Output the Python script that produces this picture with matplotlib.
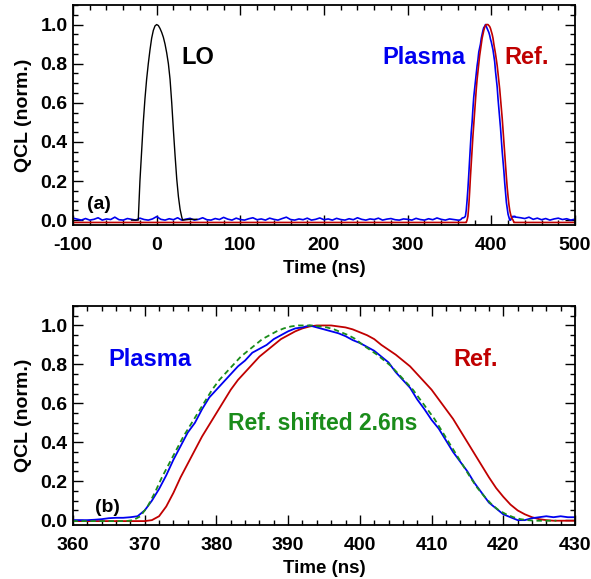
import numpy as np
import matplotlib
matplotlib.use("Agg")
import matplotlib.pyplot as plt
from matplotlib.ticker import MultipleLocator, FormatStrFormatter

plt.rcParams['font.family'] = ['Liberation Sans', 'DejaVu Sans']
plt.rcParams['font.weight'] = 'bold'
plt.rcParams['axes.unicode_minus'] = False

# ---- pulse data (1 ns sampling, 360..430 ns) ----
t_pulse = np.arange(360, 431, 1.0)
ref_pulse = [-0.005]*11 + [
    0.0, 0.02, 0.07, 0.14, 0.22, 0.29, 0.36, 0.43, 0.49, 0.55,
    0.61, 0.67, 0.72, 0.76, 0.80, 0.84, 0.87, 0.90, 0.93, 0.95,
    0.97, 0.985, 0.995, 1.0, 1.0, 1.0, 0.995, 0.99, 0.98, 0.965,
    0.95, 0.93, 0.90, 0.875, 0.85, 0.82, 0.79, 0.75, 0.71, 0.67,
    0.62, 0.57, 0.52, 0.46, 0.40, 0.34, 0.28, 0.22, 0.165, 0.12,
    0.08, 0.05, 0.03, 0.015, 0.005, 0.0, -0.003, -0.003, -0.003, -0.003]
plasma_pulse = [
    0.0, 0.0, 0.0, 0.002, 0.005, 0.01, 0.012, 0.012, 0.015, 0.02,
    0.05, 0.10, 0.16, 0.23, 0.31, 0.38, 0.45, 0.50, 0.57, 0.63,
    0.67, 0.71, 0.75, 0.79, 0.82, 0.86, 0.88, 0.90, 0.93, 0.95,
    0.97, 0.985, 0.99, 1.0, 0.99, 0.98, 0.97, 0.96, 0.945, 0.925,
    0.91, 0.89, 0.87, 0.84, 0.81, 0.76, 0.72, 0.68, 0.62, 0.57,
    0.515, 0.47, 0.41, 0.35, 0.30, 0.25, 0.19, 0.14, 0.09, 0.06,
    0.03, 0.015, 0.0, 0.0, 0.01, 0.015, 0.02, 0.015, 0.02, 0.015, 0.015]
shift_ns = 2.6

# ---- LO pulse ----
t_lo = [-30, -22, -21, -20, -18, -16, -14, -12, -10, -8, -6, -4, -2, 0,
        2, 4, 6, 8, 10, 12, 14, 16, 18, 19, 20, 22, 24, 26, 28, 30, 31, 40, 48]
lo = [0.0, 0.0, 0.1, 0.2, 0.35, 0.5, 0.62, 0.72, 0.8, 0.87, 0.93, 0.97, 0.993, 1.0,
      0.995, 0.98, 0.96, 0.935, 0.9, 0.855, 0.8, 0.72, 0.6, 0.53, 0.46, 0.33,
      0.21, 0.12, 0.055, 0.015, 0.0, 0.004, 0.004]

# ---- baseline (outside pulse) for panel (a) ----
t_base_pre = np.arange(-100, 360, 5.0)
plasma_base_pre = [
    0.01, 0.005, 0.0, 0.008, 0.0, 0.004, 0.012, 0.0, 0.006, 0.003,
    0.015, 0.002, 0.0, 0.008, 0.004, 0.0, 0.01, 0.003, 0.0, 0.006,
    0.018, 0.004, 0.0, 0.007, 0.002, 0.012, 0.0, 0.005, 0.009, 0.0,
    0.004, 0.012, 0.002, 0.0, 0.008, 0.003, 0.014, 0.005, 0.0, 0.01,
    0.003, 0.0, 0.007, 0.012, 0.002, 0.006, 0.0, 0.01, 0.004, 0.0,
    0.008, 0.015, 0.003, 0.0, 0.006, 0.002, 0.01, 0.0, 0.004, 0.011,
    0.002, 0.006, 0.0, 0.009, 0.003, 0.0, 0.007, 0.002, 0.012, 0.004,
    0.0, 0.006, 0.003, 0.01, 0.0, 0.005, 0.008, 0.002, 0.0, 0.006,
    0.004, 0.0, 0.009, 0.003, 0.0, 0.007, 0.002, 0.011, 0.004, 0.0,
    0.006, 0.003]
t_base_post = np.arange(435, 501, 5.0)
plasma_base_post = [0.012, 0.008, 0.015, 0.004, 0.01, 0.002, 0.008, 0.0,
                    0.006, 0.01, 0.003, 0.007, 0.0, 0.005]
ref_base = -0.012

blue = '#0000f0'
red = '#c00000'
green = '#1a8c1a'

fig = plt.figure(figsize=(5.91, 5.79), dpi=100)
ax1 = fig.add_axes([73/591, 1-225/579, 502/591, 220/579])
ax2 = fig.add_axes([73/591, 1-525/579, 502/591, 219/579])

# panel (a)
t_ref_full = np.concatenate([[-100], t_pulse, [500]])
ref_full = np.concatenate([[ref_base], ref_pulse, [ref_base]])
ref_full = np.where(ref_full < 0, ref_base, ref_full)
t_pl_full = np.concatenate([t_base_pre, t_pulse, t_base_post])
pl_full = np.concatenate([plasma_base_pre, plasma_pulse, plasma_base_post])
ax1.plot(t_pl_full, pl_full, color=blue, lw=1.2)
ax1.plot(t_ref_full, ref_full, color=red, lw=1.2)
ax1.plot(t_lo, lo, color='black', lw=1.0)
ax1.set_xlim(-100, 500)
ax1.set_ylim(-0.025, 1.1)
ax1.xaxis.set_major_locator(MultipleLocator(100))
ax1.xaxis.set_minor_locator(MultipleLocator(20))
ax1.text(49, 0.83, 'LO', color='black', fontsize=17, fontweight='bold', ha='center', va='center')
ax1.text(319, 0.83, 'Plasma', color=blue, fontsize=17, fontweight='bold', ha='center', va='center')
ax1.text(442.5, 0.83, 'Ref.', color=red, fontsize=17, fontweight='bold', ha='center', va='center')
ax1.text(-83, 0.08, '(a)', color='black', fontsize=14, fontweight='bold', ha='left', va='center')

# panel (b)
ax2.plot(t_pulse, ref_pulse, color=red, lw=1.3)
ax2.plot(t_pulse, plasma_pulse, color=blue, lw=1.3)
ax2.plot(t_pulse - shift_ns, ref_pulse, color=green, lw=1.3, ls=(0, (3, 2)))
ax2.set_xlim(360, 430)
ax2.set_ylim(-0.025, 1.1)
ax2.xaxis.set_major_locator(MultipleLocator(10))
ax2.xaxis.set_minor_locator(MultipleLocator(2))
ax2.text(370.7, 0.825, 'Plasma', color=blue, fontsize=17, fontweight='bold', ha='center', va='center')
ax2.text(416.1, 0.825, 'Ref.', color=red, fontsize=17, fontweight='bold', ha='center', va='center')
ax2.text(394.8, 0.495, 'Ref. shifted 2.6ns', color=green, fontsize=16.5, fontweight='bold', ha='center', va='center')
ax2.text(363.1, 0.067, '(b)', color='black', fontsize=14, fontweight='bold', ha='left', va='center')

for ax in (ax1, ax2):
    ax.yaxis.set_major_locator(MultipleLocator(0.2))
    ax.yaxis.set_minor_locator(MultipleLocator(0.05))
    ax.tick_params(which='both', direction='in', top=True, right=True, width=1.0)
    ax.tick_params(which='major', length=7, labelsize=14)
    ax.tick_params(axis='x', which='major', pad=9)
    ax.tick_params(axis='y', which='major', pad=4)
    ax.tick_params(which='minor', length=3.5)
    for s in ax.spines.values():
        s.set_linewidth(1.3)
    for lab in ax.get_xticklabels() + ax.get_yticklabels():
        lab.set_fontweight('bold')
    ax.set_xlabel('Time (ns)', fontsize=13.5, fontweight='bold', labelpad=4)
    ax.set_ylabel('QCL (norm.)', fontsize=14, fontweight='bold', labelpad=6)
    ax.yaxis.set_major_formatter(FormatStrFormatter('%.1f'))

fig.savefig('out.png', dpi=100)
